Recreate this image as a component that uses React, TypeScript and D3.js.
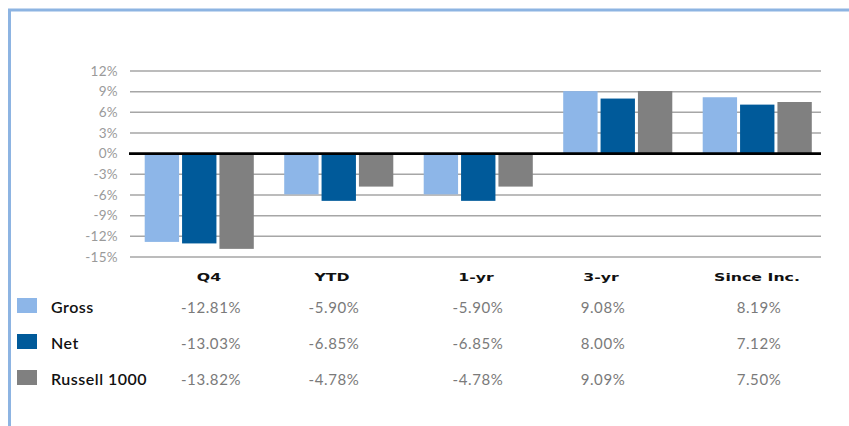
import React from "react";
import * as d3 from "d3";

const categories = ["Q4", "YTD", "1-yr", "3-yr", "Since Inc."];
const seriesNames = ["Gross", "Net", "Russell 1000"];
const gross = [-12.81, -5.9, -5.9, 9.08, 8.19];
const net = [-13.03, -6.85, -6.85, 8.0, 7.12];
const russell = [-13.82, -4.78, -4.78, 9.09, 7.5];
const yTicks = [12, 9, 6, 3, 0, -3, -6, -9, -12, -15];

const colors = ["#8DB6E8", "#005A9A", "#808080"];
const W = 849;
const H = 426;
const tableColX = [209, 332, 476, 601, 757];
const rowBaselines = [313, 349, 385];

export default function App() {
  const series = [gross, net, russell];
  const x0 = d3
    .scaleBand<string>()
    .domain(categories)
    .range([129.5, 827])
    .paddingInner(0.218)
    .paddingOuter(0.109);
  const x1 = d3
    .scaleBand<string>()
    .domain(seriesNames)
    .range([0, x0.bandwidth()])
    .paddingInner(0.08)
    .paddingOuter(0);
  const y = d3.scaleLinear().domain([-15, 12]).range([257, 71]);
  const fmt = (v: number) => v.toFixed(2) + "%";

  return (
    <svg
      width={W}
      height={H}
      style={{ position: "absolute", left: 0, top: 0, background: "#fff" }}
    >
      {/* frame */}
      <path d={`M9.5,${H} V10 H${W}`} fill="none" stroke="#8DB4E2" strokeWidth={3} />

      {/* gridlines */}
      {yTicks.map((t) =>
        t === 0 ? null : (
          <line
            key={t}
            x1={130}
            x2={821}
            y1={y(t)}
            y2={y(t)}
            stroke="#A6A6A6"
            strokeWidth={1.5}
          />
        )
      )}
      {/* y labels */}
      {yTicks.map((t) => (
        <text
          key={"l" + t}
          x={118}
          y={y(t)}
          dy="0.35em"
          textAnchor="end"
          fontFamily="Lato, sans-serif"
          fontSize={13.5}
          letterSpacing={0.3}
          fill="#9a9a9a"
        >
          {t + "%"}
        </text>
      ))}

      {/* bars */}
      {categories.map((c, ci) => (
        <g key={c} transform={`translate(${x0(c)},0)`}>
          {seriesNames.map((s, si) => {
            const v = series[si][ci];
            return (
              <rect
                key={s}
                x={x1(s)}
                y={Math.min(y(v), y(0))}
                width={x1.bandwidth()}
                height={Math.abs(y(v) - y(0))}
                fill={colors[si]}
              />
            );
          })}
        </g>
      ))}

      {/* zero line */}
      <line x1={129} x2={821} y1={y(0)} y2={y(0)} stroke="#000" strokeWidth={2.6} />

      {/* table header */}
      {categories.map((c, ci) => (
        <text
          key={"h" + c}
          transform={`translate(${tableColX[ci]},281) scale(1.5,1)`}
          textAnchor="middle"
          fontFamily="'DejaVu Sans', sans-serif"
          fontWeight="bold"
          fontSize={10.5}
          fill="#111"
        >
          {c}
        </text>
      ))}

      {/* legend rows */}
      {seriesNames.map((s, si) => (
        <g key={"r" + s}>
          <rect x={17} y={rowBaselines[si] - 15} width={20} height={15} fill={colors[si]} />
          <text
            x={51}
            y={rowBaselines[si]}
            fontFamily="Lato, sans-serif"
            fontWeight={600}
            fontSize={16}
            letterSpacing={0.5}
            fill="#111"
          >
            {s}
          </text>
          {series[si].map((v, ci) => (
            <text
              key={ci}
              x={tableColX[ci] + 2}
              y={rowBaselines[si]}
              textAnchor="middle"
              fontFamily="Lato, sans-serif"
              fontWeight={400}
              fontSize={15}
              letterSpacing={0.6}
              fill="#7a7a7a"
            >
              {fmt(v)}
            </text>
          ))}
        </g>
      ))}
    </svg>
  );
}
